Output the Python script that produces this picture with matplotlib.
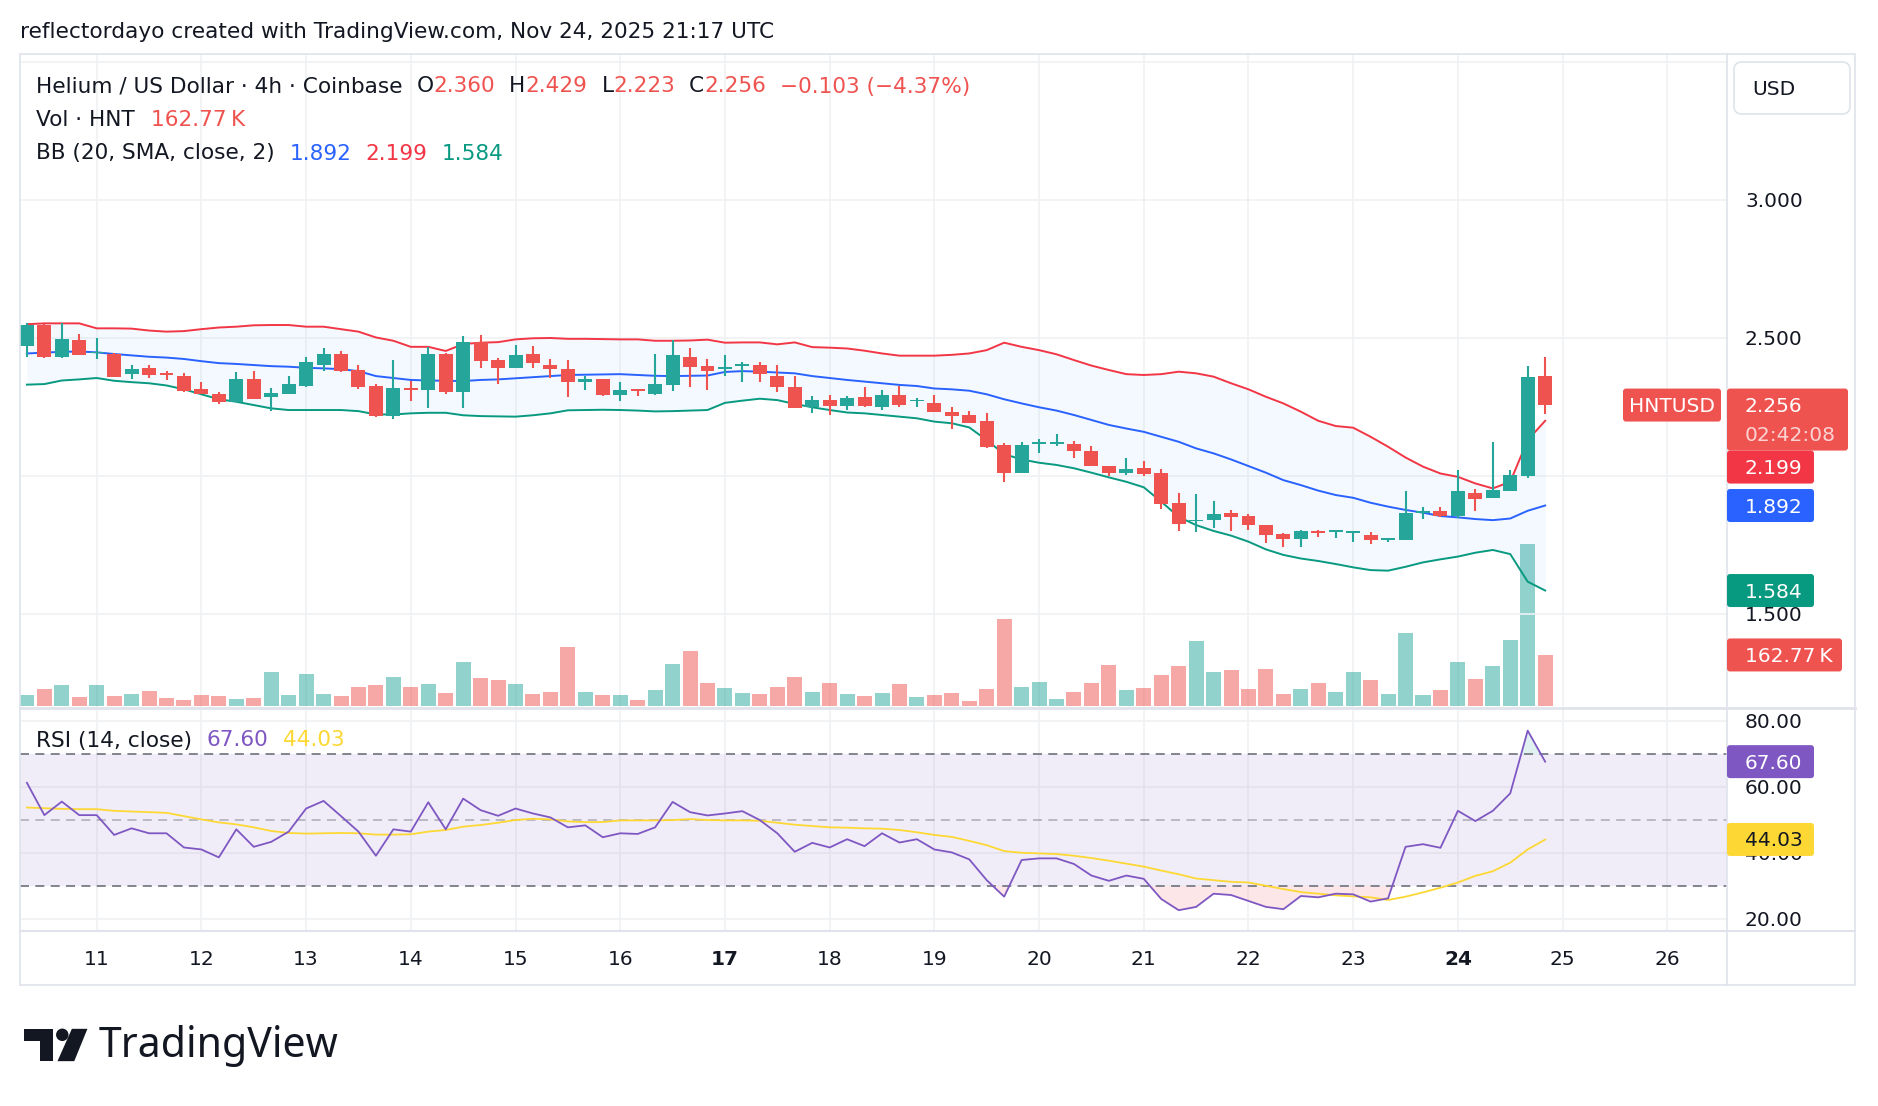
import matplotlib
matplotlib.use("Agg")
import matplotlib.pyplot as plt
from matplotlib.patches import Rectangle, FancyBboxPatch, Polygon, Circle
import numpy as np

plt.rcParams['font.family'] = ['DejaVu Sans']

W, H = 1878, 1106

# ---- data (4h candles, index 0 = Nov 11 00:00 UTC) ----
bar_index = list(range(-4, 84))

opens = [2.471, 2.546, 2.431, 2.492, 2.443, 2.441, 2.370, 2.390, 2.373, 2.361, 2.314, 2.296, 2.268, 2.350, 2.286, 2.297, 2.325, 2.402,
         2.441, 2.383, 2.325, 2.217, 2.318, 2.312, 2.441, 2.304, 2.484, 2.419, 2.390, 2.441, 2.401, 2.386, 2.339, 2.350, 2.292,
         2.314, 2.296, 2.329, 2.430, 2.397, 2.386, 2.397, 2.401, 2.361, 2.321, 2.249, 2.274, 2.252, 2.285, 2.249, 2.292, 2.269, 2.263,
         2.231, 2.220, 2.198, 2.111, 2.010, 2.115, 2.115, 2.115, 2.089, 2.035, 2.010, 2.028, 2.010, 1.901, 1.835, 1.839, 1.865, 1.854,
         1.821, 1.789, 1.771, 1.800, 1.796, 1.792, 1.785, 1.767, 1.767, 1.865, 1.872, 1.854, 1.937, 1.919, 1.944, 1.999, 2.360]
highs = [2.554, 2.548, 2.552, 2.513, 2.498, 2.443, 2.401, 2.401, 2.379, 2.371, 2.339, 2.303, 2.376, 2.379, 2.318, 2.361, 2.430, 2.463,
         2.452, 2.401, 2.332, 2.419, 2.343, 2.466, 2.446, 2.506, 2.510, 2.426, 2.473, 2.470, 2.423, 2.419, 2.361, 2.350, 2.339,
         2.314, 2.441, 2.492, 2.463, 2.423, 2.437, 2.412, 2.412, 2.401, 2.361, 2.289, 2.292, 2.289, 2.321, 2.310, 2.325, 2.281, 2.292,
         2.249, 2.234, 2.227, 2.118, 2.122, 2.133, 2.151, 2.126, 2.107, 2.035, 2.064, 2.053, 2.024, 1.937, 1.934, 1.908, 1.876, 1.861,
         1.821, 1.792, 1.803, 1.803, 1.803, 1.800, 1.796, 1.774, 1.944, 1.886, 1.886, 2.021, 1.952, 2.122, 2.021, 2.397, 2.429]
lows = [2.431, 2.428, 2.428, 2.438, 2.424, 2.359, 2.350, 2.355, 2.347, 2.304, 2.296, 2.261, 2.268, 2.279, 2.236, 2.297, 2.322, 2.380,
        2.376, 2.314, 2.214, 2.207, 2.272, 2.246, 2.297, 2.246, 2.390, 2.332, 2.390, 2.390, 2.354, 2.285, 2.310, 2.289, 2.271,
        2.289, 2.292, 2.307, 2.321, 2.310, 2.361, 2.339, 2.339, 2.303, 2.246, 2.227, 2.220, 2.238, 2.249, 2.238, 2.249, 2.249, 2.231,
        2.169, 2.191, 2.100, 1.977, 2.010, 2.082, 2.107, 2.064, 2.035, 1.999, 2.002, 1.999, 1.879, 1.800, 1.796, 1.810, 1.800, 1.803,
        1.756, 1.742, 1.742, 1.778, 1.774, 1.760, 1.752, 1.760, 1.767, 1.843, 1.850, 1.847, 1.872, 1.919, 1.944, 1.992, 2.223]
closes = [2.546, 2.431, 2.495, 2.438, 2.449, 2.359, 2.386, 2.366, 2.366, 2.308, 2.297, 2.268, 2.350, 2.279, 2.300, 2.332, 2.412, 2.441,
          2.379, 2.321, 2.217, 2.318, 2.310, 2.441, 2.304, 2.484, 2.415, 2.390, 2.437, 2.408, 2.386, 2.339, 2.350, 2.292, 2.310,
          2.308, 2.332, 2.437, 2.394, 2.380, 2.394, 2.405, 2.370, 2.321, 2.246, 2.274, 2.252, 2.281, 2.252, 2.292, 2.256, 2.274, 2.231,
          2.216, 2.191, 2.104, 2.010, 2.111, 2.122, 2.122, 2.089, 2.035, 2.010, 2.024, 2.006, 1.897, 1.825, 1.839, 1.861, 1.850, 1.821,
          1.785, 1.771, 1.800, 1.792, 1.803, 1.800, 1.767, 1.774, 1.865, 1.872, 1.854, 1.944, 1.915, 1.948, 2.002, 2.357, 2.256]
volume_k = [35, 54, 67, 29, 67, 32, 38, 48, 26, 19, 35, 32, 22, 26, 109, 35, 102, 38,
            32, 61, 67, 93, 61, 70, 41, 140, 89, 83, 70, 38, 45, 188, 45, 35, 35,
            19, 51, 134, 176, 73, 57, 41, 38, 61, 93, 45, 73, 38, 32, 41, 70, 29, 35,
            41, 16, 54, 278, 61, 77, 22, 45, 73, 131, 51, 57, 99, 128, 207, 109, 115, 54,
            118, 38, 54, 73, 45, 109, 83, 38, 233, 35, 51, 140, 86, 128, 211, 517, 162.77]

bb_upper = [2.549, 2.552, 2.552, 2.552, 2.534, 2.534, 2.533, 2.526, 2.522, 2.524, 2.531, 2.537, 2.540, 2.545, 2.546, 2.546, 2.540, 2.540,
            2.531, 2.522, 2.501, 2.489, 2.467, 2.467, 2.452, 2.477, 2.482, 2.484, 2.494, 2.498, 2.499, 2.496, 2.496, 2.495, 2.494,
            2.494, 2.489, 2.489, 2.490, 2.493, 2.482, 2.483, 2.483, 2.476, 2.483, 2.466, 2.464, 2.461, 2.453, 2.443, 2.435, 2.435, 2.435,
            2.438, 2.443, 2.455, 2.482, 2.467, 2.455, 2.440, 2.419, 2.399, 2.383, 2.368, 2.365, 2.368, 2.377, 2.371, 2.359, 2.335, 2.313,
            2.286, 2.262, 2.232, 2.199, 2.180, 2.174, 2.141, 2.105, 2.066, 2.033, 2.008, 1.996, 1.972, 1.954, 1.978, 2.129, 2.199]
bb_basis = [2.443, 2.446, 2.449, 2.450, 2.447, 2.441, 2.436, 2.431, 2.428, 2.423, 2.415, 2.408, 2.405, 2.401, 2.397, 2.395, 2.391, 2.389,
            2.386, 2.379, 2.361, 2.354, 2.347, 2.345, 2.344, 2.343, 2.347, 2.349, 2.353, 2.357, 2.361, 2.365, 2.366, 2.367, 2.368,
            2.365, 2.362, 2.361, 2.362, 2.363, 2.376, 2.379, 2.377, 2.374, 2.371, 2.361, 2.354, 2.347, 2.341, 2.335, 2.329, 2.325, 2.316,
            2.313, 2.308, 2.295, 2.277, 2.262, 2.248, 2.236, 2.220, 2.202, 2.184, 2.171, 2.159, 2.141, 2.123, 2.099, 2.081, 2.059, 2.035,
            2.011, 1.984, 1.966, 1.946, 1.930, 1.920, 1.902, 1.888, 1.876, 1.866, 1.854, 1.849, 1.843, 1.839, 1.845, 1.873, 1.892]
bb_lower = [2.330, 2.332, 2.345, 2.349, 2.354, 2.344, 2.339, 2.335, 2.327, 2.313, 2.295, 2.277, 2.268, 2.256, 2.244, 2.238, 2.238, 2.238,
            2.238, 2.234, 2.222, 2.222, 2.226, 2.228, 2.228, 2.219, 2.216, 2.215, 2.214, 2.219, 2.226, 2.237, 2.238, 2.239, 2.238,
            2.236, 2.233, 2.234, 2.236, 2.238, 2.264, 2.272, 2.279, 2.274, 2.260, 2.248, 2.238, 2.229, 2.226, 2.220, 2.214, 2.208, 2.196,
            2.190, 2.175, 2.129, 2.078, 2.059, 2.047, 2.039, 2.027, 2.011, 1.994, 1.978, 1.958, 1.906, 1.851, 1.821, 1.800, 1.783, 1.761,
            1.733, 1.713, 1.700, 1.691, 1.680, 1.668, 1.658, 1.656, 1.670, 1.686, 1.697, 1.707, 1.721, 1.731, 1.716, 1.616, 1.584]

rsi = [61.2, 51.4, 55.5, 51.4, 51.4, 45.4, 47.4, 45.9, 45.9, 41.6, 41.0, 38.6, 47.1, 41.8, 43.3, 46.4, 53.4, 55.7,
       51.1, 46.4, 39.1, 47.1, 46.4, 55.3, 47.1, 56.4, 52.9, 51.2, 53.4, 51.9, 50.7, 47.7, 48.3, 44.7, 45.9,
       45.7, 47.7, 55.4, 52.3, 51.3, 51.9, 52.6, 49.9, 45.9, 40.3, 43.0, 41.6, 44.1, 42.0, 45.9, 43.1, 44.1, 41.0,
       40.1, 38.0, 31.7, 26.7, 37.8, 38.3, 38.3, 36.6, 33.1, 31.5, 33.1, 32.1, 26.0, 22.6, 23.6, 27.6, 27.2, 25.4,
       23.6, 22.9, 26.9, 26.5, 27.6, 27.4, 25.2, 26.2, 41.8, 42.6, 41.5, 52.7, 49.6, 52.7, 58.0, 77.0, 67.6]
rsi_ma = [53.7, 53.5, 53.3, 53.2, 53.2, 52.7, 52.5, 52.3, 52.1, 51.1, 50.1, 49.2, 48.6, 47.7, 46.6, 46.0, 45.8, 45.9,
          46.0, 45.9, 45.5, 45.5, 45.6, 46.4, 46.9, 47.9, 48.4, 49.1, 49.9, 50.3, 50.1, 49.5, 49.3, 49.3, 49.8,
          49.8, 49.8, 49.9, 50.2, 49.9, 49.8, 49.8, 49.7, 49.1, 48.5, 48.1, 47.7, 47.6, 47.4, 47.3, 46.9, 46.2, 45.4,
          44.8, 43.6, 42.3, 40.5, 40.0, 39.8, 39.6, 39.1, 38.4, 37.6, 36.7, 35.8, 34.6, 33.5, 32.2, 31.7, 31.2, 31.0,
          30.0, 29.0, 28.1, 27.6, 27.1, 26.8, 26.5, 25.7, 26.7, 28.0, 29.4, 31.0, 33.0, 34.4, 37.0, 41.0, 44.0]

day_labels = ['11', '12', '13', '14', '15', '16', '17', '18', '19', '20', '21', '22', '23', '24', '25', '26']
bold_days = ['17', '24']
price_ticks = [3.0, 2.5, 2.0, 1.5]
price_grid = [3.5, 3.0, 2.5, 2.0, 1.5]
rsi_ticks = [80, 60, 40, 20]

# ---- colours ----
UP, DOWN = '#26a69a', '#ef5350'
TXT = '#131722'
GRID = '#f0f1f4'
BORDER = '#e0e3eb'

x = np.array(bar_index)
o, h, l, c = map(np.array, (opens, highs, lows, closes))
rsi_a, rsi_ma_a = np.array(rsi), np.array(rsi_ma)
cols = np.where(c >= o, UP, DOWN)

fig = plt.figure(figsize=(W / 100, H / 100), dpi=100)
fig.patch.set_facecolor('white')


def px_axes(x0, y0, x1, y1, **kw):
    return fig.add_axes([x0 / W, 1 - y1 / H, (x1 - x0) / W, (y1 - y0) / H], **kw)


XL = (-4.395, 93.42)
ax_v = px_axes(20, 54, 1727, 707)
ax_p = px_axes(20, 54, 1727, 707, facecolor='none')
ax_r = px_axes(20, 708, 1727, 931)
for a in (ax_v, ax_p, ax_r):
    a.set_xlim(*XL)
    a.set_axis_off()
ax_p.set_ylim(1.162, 3.528)
ax_v.set_ylim(-3, 2077)
ax_r.set_ylim(16.3, 83.85)

day_pos = [6 * k for k in range(len(day_labels))]

# grid
for d in day_pos:
    ax_v.axvline(d, color=GRID, lw=1.2, zorder=0)
    ax_r.axvline(d, color=GRID, lw=1.2, zorder=0)
for g in price_grid:
    ax_p.axhline(g, color=GRID, lw=1.2, zorder=0)
for g in rsi_ticks:
    ax_r.axhline(g, color=GRID, lw=1.2, zorder=0)

# volume
ax_v.bar(x, volume_k, width=0.86, color=cols, alpha=0.5, linewidth=0, zorder=2)

# bollinger bands
ax_p.fill_between(x, bb_upper, bb_lower, color='#2196f3', alpha=0.05, linewidth=0, zorder=1)
ax_p.plot(x, bb_upper, color='#f23645', lw=1.4, zorder=2)
ax_p.plot(x, bb_basis, color='#2962ff', lw=1.4, zorder=2)
ax_p.plot(x, bb_lower, color='#089981', lw=1.4, zorder=2)

# candles
ax_p.vlines(x, l, h, colors=cols, linewidth=1.5, zorder=3)
ax_p.bar(x, np.maximum(np.abs(c - o), 0.006), bottom=np.minimum(o, c), width=0.8,
         color=cols, linewidth=0, zorder=4)

# RSI
ax_r.axhspan(30, 70, color='#7e57c2', alpha=0.1, lw=0, zorder=0.5)
ax_r.fill_between(x, rsi_a, 70, where=rsi_a > 70, interpolate=True, color='#089981', alpha=0.12, lw=0)
ax_r.fill_between(x, rsi_a, 30, where=rsi_a < 30, interpolate=True, color='#f23645', alpha=0.12, lw=0)
for lev, al in ((70, 1.0), (50, 0.5), (30, 1.0)):
    ax_r.axhline(lev, color='#787b86', alpha=al, lw=1.3, ls=(0, (5, 3.5)), zorder=1)
ax_r.plot(x, rsi_ma_a, color='#fdd835', lw=1.3, zorder=2)
ax_r.plot(x, rsi_a, color='#7e57c2', lw=1.3, zorder=3)

# ---- overlay in pixel coordinates ----
ov = fig.add_axes([0, 0, 1, 1], facecolor='none')
ov.set_xlim(0, W)
ov.set_ylim(H, 0)
ov.set_axis_off()
ov.set_zorder(10)
rend = fig.canvas.get_renderer()


def py(v):
    return H - ax_p.transData.transform((0, v))[1]


def ry(v):
    return H - ax_r.transData.transform((0, v))[1]


def vy(v):
    return H - ax_v.transData.transform((0, v))[1]


def xpx(i):
    return ax_p.transData.transform((i, 0))[0]


# frame
ov.add_patch(Rectangle((20, 54), 1835, 931, fill=False, ec=BORDER, lw=1.2))
ov.plot([1727, 1727], [54, 985], color=BORDER, lw=1.2)
ov.plot([20, 1855], [707.5, 707.5], color=BORDER, lw=2)
ov.plot([20, 1855], [931, 931], color=BORDER, lw=1.5)

FS = 14.5      # scale labels
FS_LEG = 15.6  # header and legends
DY = 1.5       # small baseline correction for va='center'


def pieces(x0, y0, items, size=FS_LEG):
    xx = x0
    for txt, col, gap in items:
        t = ov.text(xx, y0 + DY, txt, color=col, fontsize=size, va='center', ha='left')
        xx += t.get_window_extent(renderer=rend).width + gap


ov.text(20, 30 + DY, 'reflectordayo created with TradingView.com, Nov 24, 2025 21:17 UTC',
        fontsize=FS_LEG, color=TXT, va='center', ha='left')

R = '#ef5350'
pieces(36, 85, [('Helium / US Dollar · 4h · Coinbase', TXT, 14),
                ('O', TXT, 0), ('2.360', R, 14), ('H', TXT, 0), ('2.429', R, 14),
                ('L', TXT, 0), ('2.223', R, 14), ('C', TXT, 0), ('2.256', R, 14),
                ('\u22120.103 (\u22124.37%)', R, 0)])
pieces(36, 119, [('Vol · HNT', TXT, 16), ('162.77\u2009K', R, 0)])
pieces(36, 152, [('BB (20, SMA, close, 2)', TXT, 15), ('1.892', '#2962ff', 14),
                 ('2.199', '#f23645', 14), ('1.584', '#089981', 0)])
pieces(36, 739, [('RSI (14, close)', TXT, 15), ('67.60', '#7e57c2', 14), ('44.03', '#fdd835', 0)])

# day labels
for lab, d in zip(day_labels, day_pos):
    ov.text(xpx(d), 958 + DY, lab, fontsize=FS, color=TXT, ha='center', va='center',
            fontweight='bold' if lab in bold_days else 'normal')

# price / rsi scale labels (drawn below the coloured value boxes)
for v in price_ticks:
    ov.text(1745, py(v) + DY, f'{v:.3f}', fontsize=FS, color=TXT, va='center', ha='left', zorder=2)
for v in rsi_ticks:
    ov.text(1745, ry(v) + DY, f'{v:.2f}', fontsize=FS, color=TXT, va='center', ha='left', zorder=2)

# USD box
ov.add_patch(FancyBboxPatch((1734, 62), 116, 52, boxstyle='round,pad=0,rounding_size=8',
                            fc='white', ec=BORDER, lw=1.2))
ov.text(1752, 88 + DY, 'USD', fontsize=FS, color=TXT, va='center', ha='left')


def axis_label(top, hgt, col, text, x1=1814, tcol='white'):
    ov.add_patch(FancyBboxPatch((1727, top), x1 - 1727, hgt, boxstyle='round,pad=0,rounding_size=3',
                                fc=col, ec='none', zorder=5))
    ov.text(1745, top + 16.5 + DY, text, fontsize=FS, color=tcol, va='center', ha='left', zorder=6)


LH = 33
cur_top = py(2.256) - LH / 2
axis_label(cur_top, 62, '#ef5350', '2.256', x1=1848)
ov.text(1745, cur_top + 45 + DY, '02:42:08', fontsize=FS, color='white', alpha=0.75,
        va='center', ha='left', zorder=6)
ov.add_patch(FancyBboxPatch((1623, cur_top), 98, LH, boxstyle='round,pad=0,rounding_size=3',
                            fc='#ef5350', ec='none', zorder=5))
ov.text(1672, cur_top + 16.5 + DY, 'HNTUSD', fontsize=FS, color='white', va='center', ha='center', zorder=6)

prev_bottom = cur_top + 62
for val, col in ((2.199, '#f23645'), (1.892, '#2962ff'), (1.584, '#089981')):
    top = max(py(val) - LH / 2, prev_bottom)
    axis_label(top, LH, col, f'{val:.3f}')
    prev_bottom = top + LH
axis_label(vy(162.77) - LH / 2, LH, '#ef5350', '162.77\u2009K', x1=1842)
axis_label(ry(67.60) - LH / 2, LH, '#7e57c2', '67.60')
axis_label(ry(44.03) - LH / 2, LH, '#fdd835', '44.03', tcol=TXT)

# TradingView logo
s = 1.1977
ov.add_patch(Polygon([(20 * s, 859 * s), (44 * s, 859 * s), (44 * s, 886 * s), (33 * s, 886 * s),
                      (33 * s, 869 * s), (20 * s, 869 * s)], closed=True, fc=TXT, ec='none'))
ov.add_patch(Circle((52 * s, 864 * s), 5.2 * s, fc=TXT, ec='none'))
ov.add_patch(Polygon([(60 * s, 859 * s), (73 * s, 859 * s), (62 * s, 886 * s), (48 * s, 886 * s)],
                     closed=True, fc=TXT, ec='none'))
ov.text(82 * s, 873 * s, 'TradingView', fontsize=29.5, fontweight='bold', family='Noto Sans',
        color=TXT, va='center', ha='left')

fig.savefig('out.png', dpi=100)
